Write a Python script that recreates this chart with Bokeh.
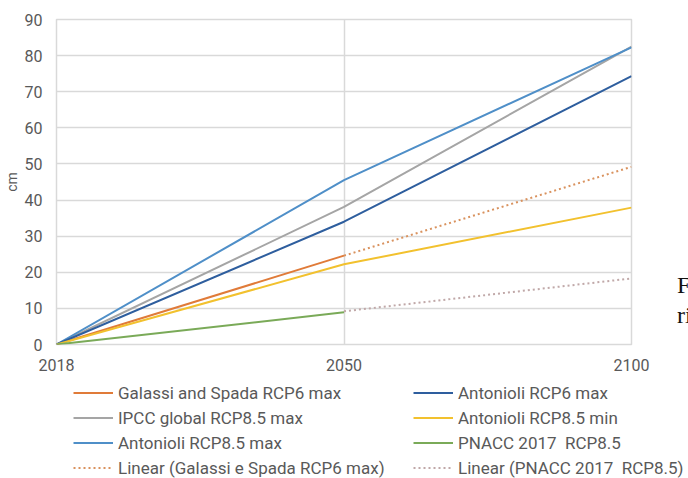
from bokeh.plotting import figure
from bokeh.models import Range1d, Legend, LegendItem, FixedTicker, Div
from bokeh.layouts import row, column
from bokeh.embed import file_html
from bokeh.resources import INLINE

years = ["2018", "2050", "2100"]
xi = [0, 1, 2]

galassi = [0.0, 24.6]
antonioli_rcp6 = [0.0, 34.0, 74.3]
ipcc = [0.0, 38.1, 82.5]
antonioli_min = [0.0, 22.2, 37.9]
antonioli_max = [0.0, 45.5, 82.3]
pnacc = [0.0, 8.9]
galassi_trend = [24.6, 49.2]
pnacc_trend = [9.2, 18.3]

FONT = "Roboto"
TXT = "#595959"

series = [
    ("Galassi and Spada RCP6 max", xi[:2], galassi, "#E07B39", None),
    ("IPCC global RCP8.5 max", xi, ipcc, "#A5A5A5", None),
    ("Antonioli RCP8.5 max", xi, antonioli_max, "#4F8FC8", None),
    ("Linear (Galassi e Spada RCP6 max)", xi[1:], galassi_trend, "#D9925E", "2 3"),
    ("Antonioli RCP6 max", xi, antonioli_rcp6, "#2E5E9E", None),
    ("Antonioli RCP8.5 min", xi, antonioli_min, "#F2C12E", None),
    ("PNACC 2017  RCP8.5", xi[:2], pnacc, "#7AAA58", None),
    ("Linear (PNACC 2017  RCP8.5)", xi[1:], pnacc_trend, "#C0A8A8", "2 3"),
]

p = figure(width=672, height=378, output_backend="svg", toolbar_location=None,
           x_range=Range1d(0, 2), y_range=Range1d(0, 90),
           min_border_left=56, min_border_right=41, min_border_top=19, min_border_bottom=34)
p.outline_line_color = "#d9d9d9"
p.outline_line_width = 1.5

p.xaxis.ticker = FixedTicker(ticks=xi)
p.xaxis.major_label_overrides = {i: y for i, y in zip(xi, years)}
p.yaxis.ticker = FixedTicker(ticks=list(range(0, 91, 10)))
for ax in (p.xaxis[0], p.yaxis[0]):
    ax.axis_line_color = None
    ax.major_tick_line_color = None
    ax.minor_tick_line_color = None
    ax.major_label_text_font = FONT
    ax.major_label_text_color = TXT
    ax.major_label_text_font_size = "16px"
p.xaxis.major_label_standoff = 8
p.yaxis.major_label_standoff = 8
p.yaxis.axis_label = "cm"
p.yaxis.axis_label_text_font = FONT
p.yaxis.axis_label_text_font_style = "normal"
p.yaxis.axis_label_text_color = TXT
p.yaxis.axis_label_text_font_size = "14px"
p.yaxis.axis_label_standoff = 2

p.xgrid.ticker = FixedTicker(ticks=[1])
p.xgrid.grid_line_color = "#d9d9d9"
p.xgrid.grid_line_width = 1.5
p.ygrid.grid_line_color = "#d9d9d9"
p.ygrid.grid_line_width = 1.5

for name, xs, ys, col, dash in series:
    if dash:
        p.line(xs, ys, line_color=col, line_width=2, line_dash=dash)
    else:
        p.line(xs, ys, line_color=col, line_width=2)

# legend panel (same series, kept outside its visible range; only the legend shows)
lf = figure(width=688, height=100, output_backend="svg", toolbar_location=None,
            x_range=Range1d(0, 2), y_range=Range1d(-20, -10),
            min_border_left=0, min_border_right=0, min_border_top=0, min_border_bottom=0)
lf.axis.visible = False
lf.grid.visible = False
lf.outline_line_color = None
lrs = []
for name, xs, ys, col, dash in series:
    if dash:
        r = lf.line(xs, ys, line_color=col, line_width=2, line_dash=dash)
    else:
        r = lf.line(xs, ys, line_color=col, line_width=2)
    lrs.append((name, r))

def mk_legend(its, x):
    lg = Legend(items=[LegendItem(label=l, renderers=[r]) for l, r in its],
                location=(x, 0), orientation="vertical",
                label_text_font=FONT, label_text_color=TXT, label_text_font_size="17px",
                glyph_width=40, glyph_height=21, label_height=21, spacing=4,
                label_standoff=5, padding=0, margin=0,
                border_line_color=None, background_fill_alpha=0)
    lf.add_layout(lg, "center")

mk_legend(lrs[:4], 73)
mk_legend(lrs[4:], 413)

side = Div(text="F<br>ri", width=11, height=80, margin=(270, 0, 0, 5),
           styles={"font-family": "Liberation Serif", "font-size": "24px",
                   "line-height": "30px", "color": "#111111", "overflow": "hidden",
                   "white-space": "nowrap"})

layout = column(row(p, side), lf)
open("out.html", "w").write(file_html(layout, INLINE))
